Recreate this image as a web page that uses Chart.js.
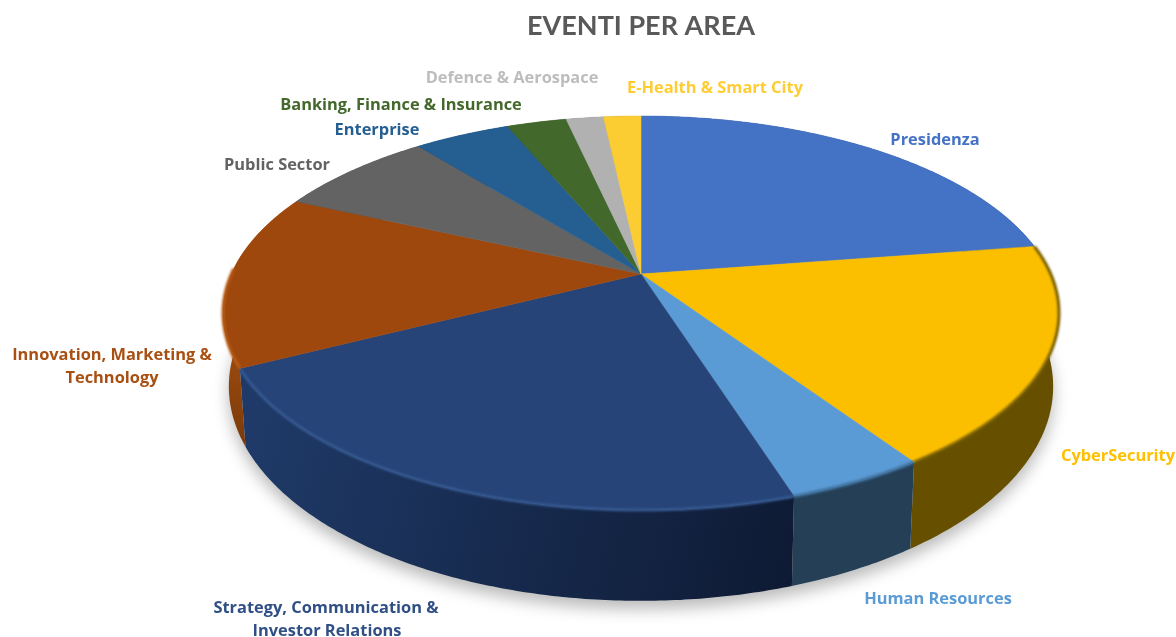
<!DOCTYPE html>
<html>
<head>
<meta charset="utf-8">
<title>Eventi per area</title>
<script src="https://cdn.jsdelivr.net/npm/chart.js@4"></script>
<style>
  html, body { margin: 0; padding: 0; background: #fff; }
  canvas { display: block; }
</style>
</head>
<body>
<canvas id="pie" width="1176" height="637"></canvas>
<script>
var categories = ["Presidenza", "CyberSecurity", "Human Resources", "Strategy, Communication & Investor Relations",
  "Innovation, Marketing & Technology", "Public Sector", "Enterprise", "Banking, Finance & Insurance",
  "Defence & Aerospace", "E-Health & Smart City"];
var shares = [22.6, 18.0, 4.5, 22.4, 14.3, 7.4, 4.5, 2.8, 1.75, 1.75];
var topColors = ["#4472c4", "#fbbf00", "#5b9bd5", "#264478", "#9e480e", "#636363", "#255e91", "#43682b", "#b1b1b1", "#fccd33"];
var labelColors = ["#4472c4", "#ffc000", "#5b9bd5", "#2f4f85", "#a84f12", "#636363", "#255e91", "#43682b", "#bdbdbd", "#ffcd33"];
var wallFrom = ["#26437a", "#665000", "#243f56", "#0e1a33", "#7c3a0a", "#3c3c3c", "#163a5a", "#29401a", "#6b6b6b", "#9b7d20"];
var wallTo = ["#26437a", "#665000", "#243f56", "#1f3a68", "#c05c12", "#3c3c3c", "#163a5a", "#29401a", "#6b6b6b", "#9b7d20"];
var rimColors = ["#3a62a8", "#7a6000", "#3f6f99", "#35588f", "#b85a16", "#555", "#1f5080", "#385623", "#999", "#d9ae2b"];

// where the text of each label sits, one entry per line: [text, centre x, baseline y]
var labelLines = [
  [["Presidenza", 935, 145]],
  [["CyberSecurity", 1118, 461]],
  [["Human Resources", 938, 604]],
  [["Strategy, Communication &", 326, 613], ["Investor Relations", 327, 636]],
  [["Innovation, Marketing &", 112, 360], ["Technology", 112, 383]],
  [["Public Sector", 277, 170]],
  [["Enterprise", 377, 135]],
  [["Banking, Finance & Insurance", 401, 110]],
  [["Defence & Aerospace", 512, 83]],
  [["E-Health & Smart City", 715, 93]]
];

// projection of the flat disc: top face and bottom rim of the cake
var topFace = { cx: 641, cy: 274, rx: 409.7, ry: 189.3, p: 0.198 };
var bottomRim = { cx: 641, cy: 344, rx: 404, ry: 206, p: 0.198 };

function project(g, a) {
  var w = 1 - g.p * Math.sin(a);
  return { x: g.cx + g.rx * Math.cos(a) / w, y: g.cy + g.ry * Math.sin(a) / w };
}

function rimPath(ctx, g, a0, a1, first) {
  var n = Math.max(2, Math.ceil(Math.abs(a1 - a0) / 0.01));
  for (var i = 0; i <= n; i++) {
    var pt = project(g, a0 + (a1 - a0) * i / n);
    if (i === 0 && first) ctx.moveTo(pt.x, pt.y);
    else ctx.lineTo(pt.x, pt.y);
  }
}

var pie3d = {
  id: "pie3d",
  beforeDatasetsDraw: function(chart) {
    var ctx = chart.ctx;
    var arcs = chart.getDatasetMeta(0).data;

    // soft shadow under the cake
    ctx.save();
    ctx.shadowColor = "rgba(0,0,0,0.28)";
    ctx.shadowBlur = 16;
    ctx.shadowOffsetY = 8;
    ctx.fillStyle = "#ddd";
    ctx.beginPath();
    rimPath(ctx, bottomRim, 0, Math.PI * 2, true);
    ctx.closePath();
    ctx.fill();
    ctx.restore();

    // side walls, back slices first
    var order = arcs.map(function(arc, i) { return i; });
    function depth(i) { return Math.sin((arcs[i].startAngle + arcs[i].endAngle) / 2); }
    order.sort(function(a, b) { return depth(a) - depth(b); });
    order.forEach(function(i) {
      var arc = arcs[i];
      var s = project(bottomRim, arc.startAngle), e = project(bottomRim, arc.endAngle);
      var grad = ctx.createLinearGradient(s.x, s.y, e.x, e.y);
      grad.addColorStop(0, wallFrom[i]);
      grad.addColorStop(1, wallTo[i]);
      ctx.fillStyle = grad;
      ctx.beginPath();
      rimPath(ctx, topFace, arc.startAngle, arc.endAngle, true);
      rimPath(ctx, bottomRim, arc.endAngle, arc.startAngle, false);
      ctx.closePath();
      ctx.fill();
    });

    // top face
    arcs.forEach(function(arc, i) {
      ctx.fillStyle = arc.options.backgroundColor;
      ctx.strokeStyle = arc.options.backgroundColor;
      ctx.lineWidth = 0.5;
      ctx.beginPath();
      ctx.moveTo(topFace.cx, topFace.cy);
      rimPath(ctx, topFace, arc.startAngle, arc.endAngle, false);
      ctx.closePath();
      ctx.fill();
      ctx.stroke();
    });

    // bevel along the front edge
    ctx.save();
    ctx.filter = "blur(1.2px)";
    ctx.lineWidth = 3;
    arcs.forEach(function(arc, i) {
      var a0 = arc.startAngle, a1 = arc.endAngle;
      if (i < 1 || i > 4) return;
      if (i === 4) a1 = a0 + 0.5;
      ctx.strokeStyle = rimColors[i];
      ctx.beginPath();
      rimPath(ctx, topFace, a0, a1, true);
      ctx.stroke();
    });
    ctx.restore();
    return false;
  },
  afterDraw: function(chart) {
    var ctx = chart.ctx;
    ctx.save();
    ctx.font = "bold 16.4px 'Open Sans'";
    ctx.textAlign = "center";
    labelLines.forEach(function(lines, i) {
      ctx.fillStyle = labelColors[i];
      lines.forEach(function(l) { ctx.fillText(l[0], l[1], l[2]); });
    });
    ctx.restore();
  }
};

new Chart(document.getElementById("pie").getContext("2d"), {
  type: "pie",
  data: {
    labels: categories,
    datasets: [{ data: shares, backgroundColor: topColors, borderWidth: 0 }]
  },
  options: {
    responsive: false,
    animation: false,
    devicePixelRatio: 1,
    layout: { padding: { top: 10, left: 106 } },
    plugins: {
      legend: { display: false },
      tooltip: { enabled: false },
      title: {
        display: true,
        text: "EVENTI PER AREA",
        color: "#595959",
        font: { family: "Lato", size: 27, weight: "bold" },
        padding: { top: 0, bottom: 0 }
      }
    }
  },
  plugins: [pie3d]
});
</script>
</body>
</html>
